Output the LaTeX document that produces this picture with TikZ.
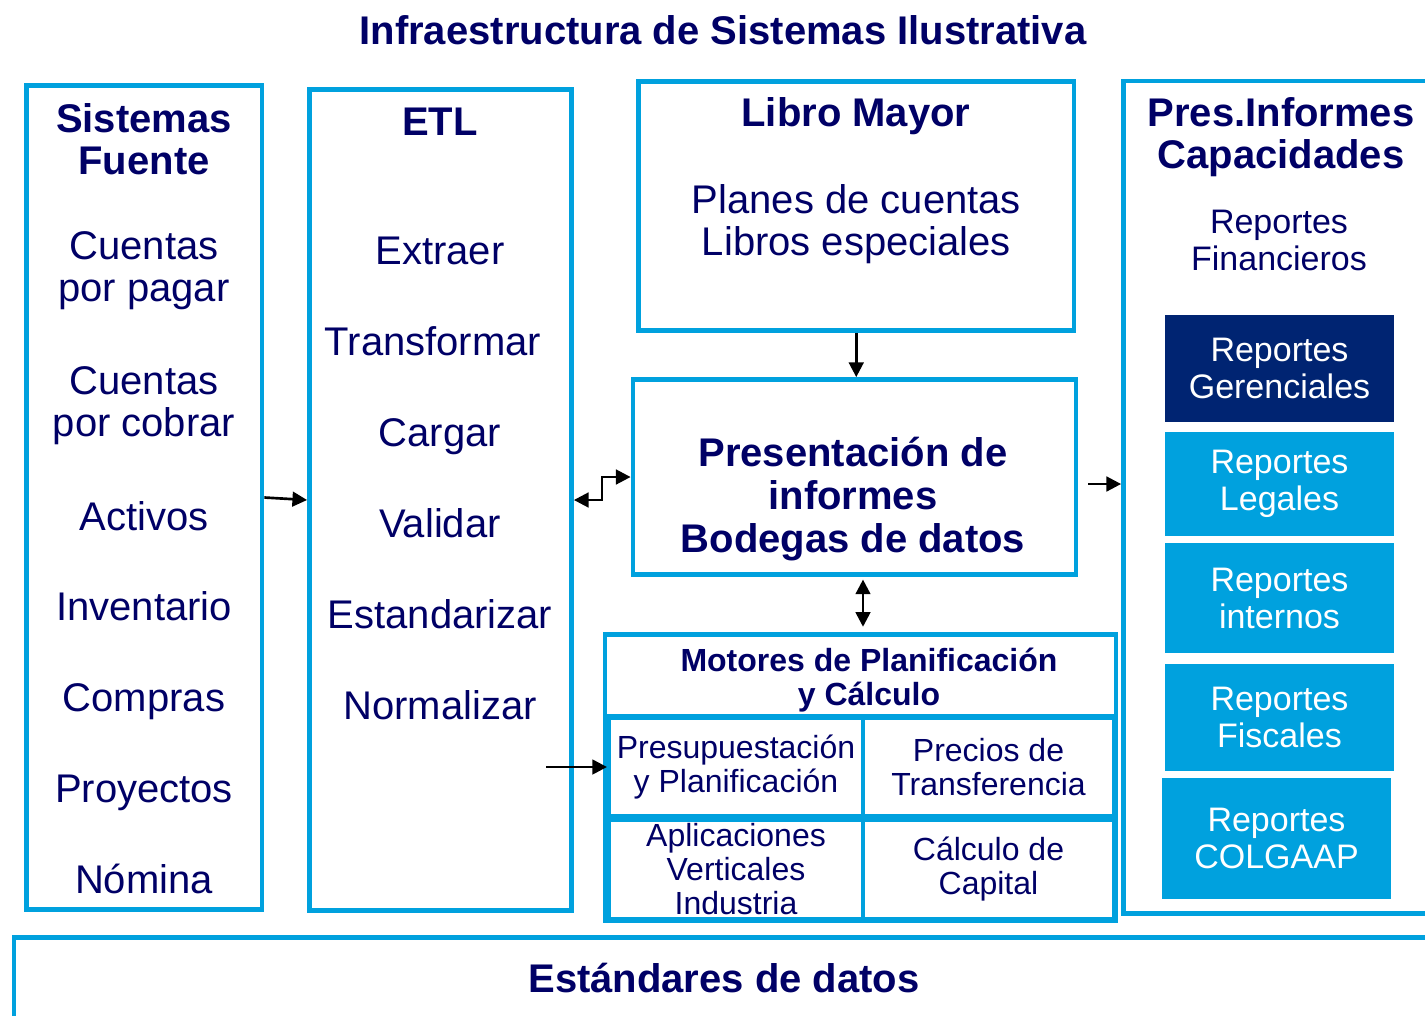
\documentclass[tikz,border=0pt]{standalone}
\usepackage{fontspec}
\setmainfont{Liberation Sans}
\usetikzlibrary{arrows.meta,calc}
\definecolor{cyanline}{RGB}{0,161,222}
\definecolor{navytext}{RGB}{0,0,102}
\definecolor{navyfill}{RGB}{0,36,114}

\begin{document}
\begin{tikzpicture}[x=0.75pt,y=0.75pt,yscale=-1,xscale=1,
  bigbox/.style={draw=cyanline,line width=3.6pt,inner sep=0pt},
  cellbox/.style={draw=cyanline,line width=3pt,inner sep=0pt,text=navytext,align=center,font=\fontsize{24}{25.5}\selectfont},
  repbox/.style={fill=#1,text=white,inner sep=0pt,align=center,minimum width=171.75pt,font=\fontsize{25.5}{27.75}\selectfont},
  headtxt/.style={text=navytext,anchor=base,align=center,inner sep=0pt,font=\fontsize{30}{31.5}\selectfont\bfseries},
  itemtxt/.style={text=navytext,anchor=base,align=center,inner sep=0pt,font=\fontsize{30}{31.5}\selectfont},
  arr/.style={line width=2pt,-{Triangle[length=11pt,width=11pt]}},
  arrboth/.style={line width=2pt,{Triangle[length=11pt,width=11pt]}-{Triangle[length=11pt,width=11pt]}}]
\useasboundingbox (0,0) rectangle (1425,1015);

% Titulo
\node[headtxt] (titulo) at (723,44) {Infraestructura de Sistemas Ilustrativa};

% Sistemas Fuente
\node[bigbox,minimum width=176.6pt,minimum height=618pt] (fuente) at (144.25,497.5) {};
\node[headtxt] (fuentetit) at (144,174) {Sistemas\\Fuente};
\node[itemtxt] (cxp) at (144,301.7) {Cuentas\\por pagar};
\node[itemtxt] (cxc) at (144,436.7) {Cuentas\\por cobrar};
\foreach \txt/\nm [count=\i] in {Activos/activos,Inventario/inventario,Compras/compras,Proyectos/proyectos,Nómina/nomina}
  \node[itemtxt] (\nm) at (144,439.3+90.75*\i) {\txt};

% ETL
\node[bigbox,minimum width=196.5pt,minimum height=615.75pt] (etl) at (440.5,500) {};
\node[headtxt] (etltit) at (440,135) {ETL};
\foreach \txt/\nm/\xx [count=\i] in {Extraer/extraer/440,Transformar/transformar/433,Cargar/cargar/440,Validar/validar/440,Estandarizar/estandarizar/440,Normalizar/normalizar/440}
  \node[itemtxt] (\nm) at (\xx,173+91*\i) {\txt};

% Libro Mayor
\node[bigbox,minimum width=326.6pt,minimum height=186.75pt] (mayor) at (856.25,206) {};
\node[headtxt] (mayortit) at (856,126) {Libro Mayor};
\node[itemtxt] (mayortxt) at (856.5,255) {Planes de cuentas\\Libros especiales};

% Presentacion de informes
\node[bigbox,minimum width=332.25pt,minimum height=146.25pt] (bodega) at (854.5,477) {};
\node[headtxt,font=\fontsize{30}{32.25}\selectfont\bfseries] (bodegatxt) at (853,552.7) {Presentación de\\informes\\Bodegas de datos};

% Motores
\node[bigbox,minimum width=383.25pt,minimum height=214.9pt] (motores) at (860.5,777.75) {};
\node[bigbox,minimum width=383.25pt,minimum height=61.1pt] (motorestit) at (860.5,675.25) {};
\node[headtxt,font=\fontsize{24}{25.5}\selectfont\bfseries] (motorestxt) at (869,705) {Motores de Planificación\\y Cálculo};
\node[cellbox,minimum width=190.5pt,minimum height=73.5pt] (presup) at (736,767) {Presupuestación\\y Planificación};
\node[cellbox,minimum width=188.25pt,minimum height=73.5pt] (precios) at (988.5,767) {Precios de\\Transferencia};
\node[cellbox,minimum width=190.5pt,minimum height=74.25pt] (verticales) at (736,869.5) {Aplicaciones\\Verticales\\Industria};
\node[cellbox,minimum width=188.25pt,minimum height=74.25pt] (capital) at (988.5,869.5) {Cálculo de\\Capital};

% Pres.Informes
\node[bigbox,minimum width=241.1pt,minimum height=624.4pt] (informes) at (1284.25,497.25) {};
\node[headtxt] (informestit) at (1281,168.3) {Pres.Informes\\Capacidades};
\node[itemtxt,font=\fontsize{25.5}{27.75}\selectfont] (financieros) at (1279,270.7) {Reportes\\Financieros};
\node[repbox=navyfill,minimum height=80.25pt] (gerenciales) at (1279.5,368.5) {Reportes\\Gerenciales};
\node[repbox=cyanline,minimum height=78pt] (legales) at (1279.5,484) {Reportes\\Legales};
\node[repbox=cyanline,minimum height=82.5pt] (internos) at (1279.5,598) {Reportes\\internos};
\node[repbox=cyanline,minimum height=80.25pt] (fiscales) at (1279.5,717.5) {Reportes\\Fiscales};
\node[repbox=cyanline,minimum height=90.75pt] (colgaap) at (1276.5,838.5) {Reportes\\COLGAAP};

% Estandares
\node[bigbox,minimum width=1073.25pt,minimum height=80.6pt] (estandares) at (729.5,991.25) {};
\node[headtxt] (estandarestxt) at (724,992) {Estándares de datos};

% Conectores
\draw[arr] (fuente.east) -- (etl.west);
\draw[arr] (mayor.south) -- (mayor.south |- bodega.north);
\draw[arrboth] (etl.east) -- ++(28,0) |- (bodega.west);
\coordinate (bodegaout) at ($(bodega.east)+(10,7)$);
\draw[arr] (bodegaout) -- (bodegaout -| informes.west);
\coordinate (bodegadown) at ($(bodega.south)+(8.5,0)$);
\draw[arrboth,shorten <=2pt,shorten >=4pt] (bodegadown) -- (bodegadown |- motores.north);
\coordinate (etlout) at (546,767);
\draw[arr] (etlout) -- (presup.west);

\end{tikzpicture}
\end{document}
